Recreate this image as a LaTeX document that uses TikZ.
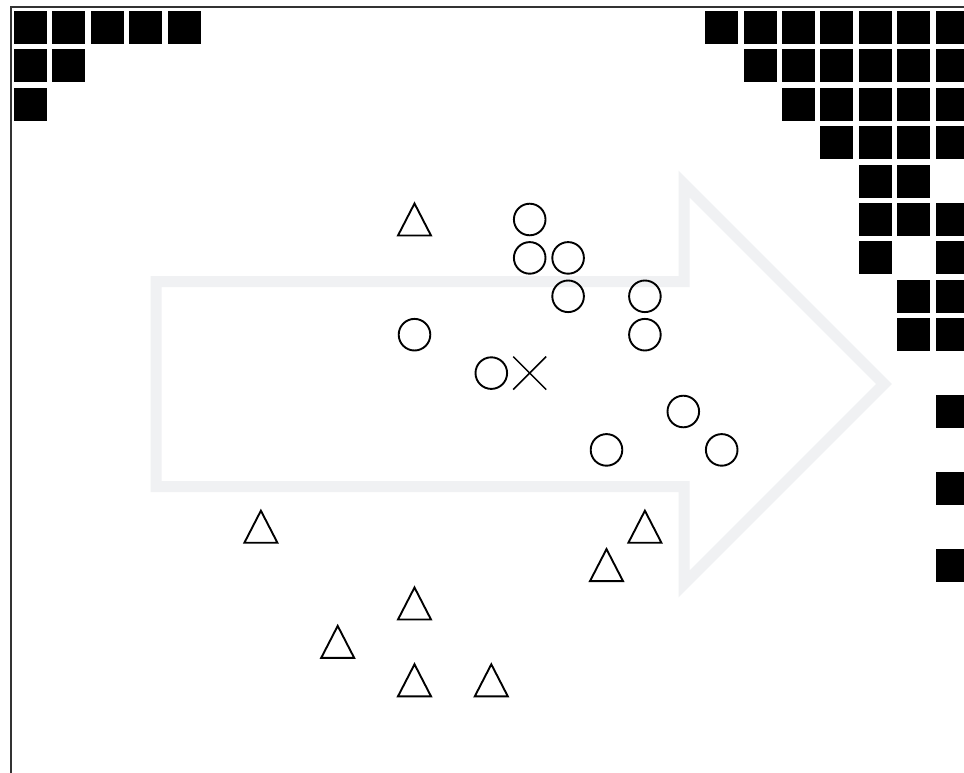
\documentclass[tikz,border=0pt]{standalone}
\definecolor{arrowgray}{RGB}{240,241,243}
\definecolor{framegray}{RGB}{51,51,51}
\tikzset{
  arrowband/.style={draw=arrowgray, line width=11pt, line join=miter},
  cell/.style={fill=black},
  ring/.style={draw=black, line width=1.9pt},
  tri/.style={draw=black, line width=1.9pt, line join=miter},
  cross/.style={draw=black, line width=1.5pt},
  framed/.style={draw=framegray, line width=2pt}
}
\begin{document}
\begin{tikzpicture}[x=1pt,y=-1pt]
\useasboundingbox (0,0) rectangle (964,773);
\clip (0,0) rectangle (964,773);
\fill[white] (0,0) rectangle (964,773);
% frame
\draw[framed] (11,773) -- (11,7) -- (964,7);
% arrow
\draw[arrowband] (156,281.5) -- (684,281.5) -- (684,184) -- (884,384) -- (684,584) -- (684,486.5) -- (156,486.5) -- cycle;
% black cells
\foreach \c/\r in {0/0,1/0,2/0,3/0,4/0,0/1,1/1,0/2,
  18/0,19/0,20/0,21/0,22/0,23/0,24/0,
  19/1,20/1,21/1,22/1,23/1,24/1,
  20/2,21/2,22/2,23/2,24/2,
  21/3,22/3,23/3,24/3,
  22/4,23/4,
  22/5,23/5,24/5,
  22/6,24/6,
  23/7,24/7,
  23/8,24/8,
  24/10,24/12,24/14}
  \fill[cell] (14+38.4*\c, 11+38.4*\r) rectangle ++(33,33);
% circles
\foreach \c/\r in {13/5,13/6,14/6,14/7,16/7,16/8,10/8,12/9,17/10,15/11,18/11}
  \draw[ring] (30.5+38.4*\c, 27.5+38.4*\r) circle (15.8);
% triangles
\foreach \c/\r in {10/5,6/13,16/13,15/14,10/15,8/16,10/17,12/17}
  \draw[tri] (30.5+38.4*\c, 27.5+38.4*\r-16) -- ++(16.5,32) -- ++(-33,0) -- cycle;
% cross
\coordinate (xc) at (30.5+38.4*13, 27.5+38.4*9);
\draw[cross] ([shift={(-16.5,-16.5)}]xc) -- ([shift={(16.5,16.5)}]xc);
\draw[cross] ([shift={(-16.5,16.5)}]xc) -- ([shift={(16.5,-16.5)}]xc);
\end{tikzpicture}
\end{document}
